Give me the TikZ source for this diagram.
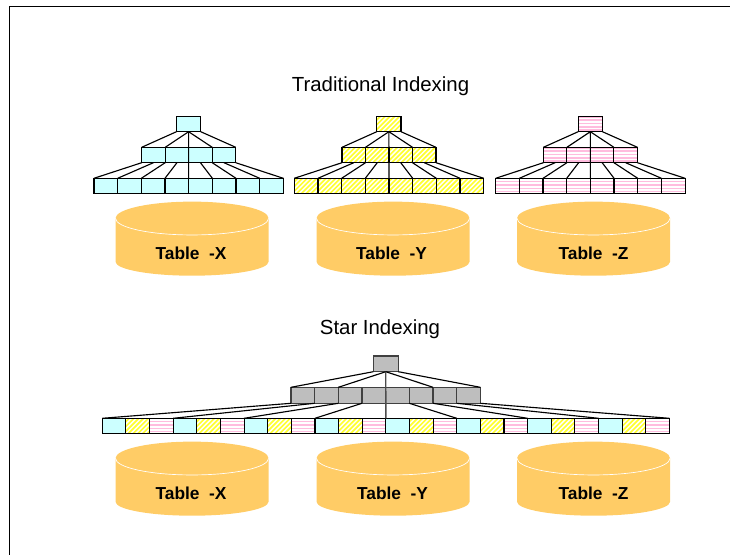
\documentclass[tikz,border=0pt]{standalone}
\usepackage{fontspec}
\setmainfont{Liberation Sans}
\definecolor{cy}{HTML}{CCFFFF}
\definecolor{yl}{HTML}{FFFF33}
\definecolor{pk}{HTML}{FFBCDE}
\definecolor{gy}{HTML}{BEBEBE}
\definecolor{org}{HTML}{FFCC66}
\tikzset{
  cell/.style={draw=black,line width=0.85pt,anchor=north west,inner sep=0pt,outer sep=0pt,
     minimum width=#1*0.75pt},
  lvlA/.style={minimum height=15.4*0.75pt},
  lvlC/.style={minimum height=15*0.75pt},
  cyanfill/.style={fill=cy},
  grayfill/.style={fill=gy,draw=black!75},
  yellowfill/.style={fill=white,path picture={
     \foreach \k in {-6,...,8}
       \draw[yl,line width=1.25pt]
         ([xshift=\k*3.6pt-1pt,yshift=-3pt]path picture bounding box.south west) -- ++(20pt,20pt);}},
  pinkfill/.style={fill=white,path picture={
     \foreach \k in {0,...,6}
       \draw[pk,line width=1.15pt]
         ([yshift=\k*2.5pt+1.2pt]path picture bounding box.south west) -- ++(30pt,0pt);}},
  link/.style={line width=0.85pt,draw=black},
  title/.style={font=\fontsize{15.3}{18}\selectfont,inner sep=0pt},
  tablab/.style={font=\bfseries\fontsize{13}{15}\selectfont,inner sep=0pt},
}
% classic tree: name, x offset, fill style
\newcommand{\classictree}[3]{
  \node[cell=24.2,lvlA,#3] (#1r) at (176.5+#2,116.3) {};
  \foreach \i in {1,...,4}
    \node[cell=23.5,lvlA,#3] (#1b\i) at (141.7+#2+23.5*\i-23.5,147.3) {};
  \foreach \i in {1,...,8}
    \node[cell=23.67,lvlC,#3] (#1c\i) at (94+#2+23.67*\i-23.67,178.3) {};
  \draw[link] (#1r.south west) -- (#1b1.north west);
  \draw[link] (#1r.south) -- (#1b2.north west);
  \draw[link] (#1r.south) -- (#1c5.north west);
  \draw[link] (#1r.south) -- (#1b4.north west);
  \draw[link] (#1r.south east) -- (#1b4.north east);
  \draw[link] (#1b1.south west) -- (#1c1.north west);
  \draw[link] (#1b1.south) -- (#1c2.north west);
  \draw[link] (#1b2.south west) -- (#1c3.north west);
  \draw[link] (#1b2.south) -- (#1c4.north west);
  \draw[link] (#1b3.south) -- (#1c6.north west);
  \draw[link] (#1b4.south west) -- (#1c7.north west);
  \draw[link] (#1b4.south) -- (#1c8.north west);
  \draw[link] (#1b4.south east) -- (#1c8.north east);
}
% cylinder: letter, centre x, y offset, label x
\newcommand{\drum}[4]{
  \coordinate (#1l) at (#2-76.5,218.3+#3);
  \fill[org] (#1l) arc[start angle=180,end angle=0,x radius=57.4pt,y radius=12.5pt]
     -- ++(0,43.4) arc[start angle=360,end angle=180,x radius=57.4pt,y radius=10.5pt] -- cycle;
  \draw[white,line width=0.5pt] (#1l) arc[start angle=180,end angle=360,x radius=57.4pt,y radius=12.5pt];
  \node[tablab] (#1n) at (#4,253+#3) {Table\hspace{0.55em}-#1};
}
\begin{document}
\begin{tikzpicture}[x=0.75pt,y=-0.75pt]
\useasboundingbox (0,0) rectangle (730,555);
\draw[black,line width=0.75pt] (730,7) -- (9,7) -- (9,555);
\node[title] (t1) at (380.5,86) {Traditional Indexing};
\node[title] (t2) at (380,329) {Star Indexing};

\classictree{a}{0}{cyanfill}
\classictree{b}{200.3}{yellowfill}
\classictree{d}{401.7}{pinkfill}

\drum{X}{192}{0}{191}
\drum{Y}{393}{0}{391.5}
\drum{Z}{593.5}{0}{593.5}

% star index
\node[cell=25,minimum height=15.7*0.75pt,grayfill] (sr) at (373.3,356) {};
\foreach \i in {1,...,8}
  \node[cell=23.67,minimum height=16*0.75pt,grayfill] (sb\i) at (291+23.67*\i-23.67,387.3) {};
\foreach \i in {1,...,24}{
  \pgfmathtruncatemacro{\m}{mod(\i,3)}
  \ifnum\m=1 \def\fs{cyanfill}\fi
  \ifnum\m=2 \def\fs{yellowfill}\fi
  \ifnum\m=0 \def\fs{pinkfill}\fi
  \node[cell=23.63,lvlC,\fs] (sc\i) at (102.3+23.63*\i-23.63,418.3) {};
}
\draw[link] (sr.south west) -- (sb1.north west);
\draw[link] (sr.south) -- (sb3.north west);
\draw[link,black!70,line width=1pt] (sr.south) -- (sc13.north west);
\draw[link] (sr.south) -- (sb7.north west);
\draw[link] (sr.south east) -- (sb8.north east);
\draw[link] (sb1.south west) -- (sc1.north west);
\draw[link] (sb2.south west) -- (sc4.north west);
\draw[link] (sb3.south west) -- (sc7.north west);
\draw[link] (sb4.south west) -- (sc10.north west);
\draw[link] (sb6.south west) -- (sc16.north west);
\draw[link] (sb7.south west) -- (sc19.north west);
\draw[link] (sb8.south west) -- (sc22.north west);
\draw[link] (sb8.south east) -- (sc24.north east);

\drum{X}{192}{240}{191}
\drum{Y}{393}{240}{392.5}
\drum{Z}{593.5}{240}{593.5}
\end{tikzpicture}
\end{document}
